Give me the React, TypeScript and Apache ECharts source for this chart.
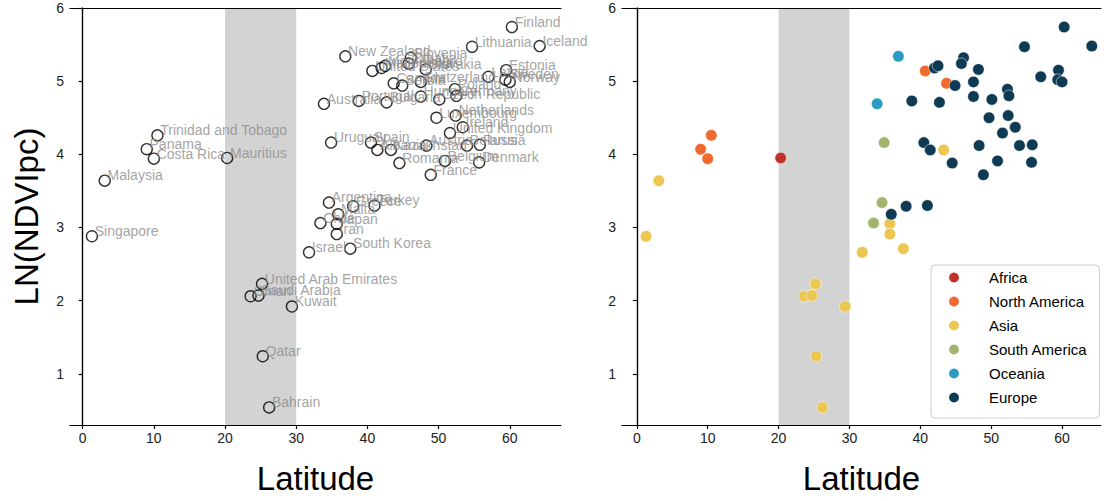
import React, { useEffect, useRef } from "react";
import * as echarts from "echarts";

// ---------- data ----------
const countries = [
  "Mauritius",
  "Trinidad and Tobago", "Panama", "Costa Rica", "United States", "Canada",
  "Singapore", "Malaysia", "Oman", "Saudi Arabia", "United Arab Emirates", "Qatar", "Bahrain", "Kuwait",
  "Israel", "Japan", "Iran", "South Korea", "Kazakhstan",
  "Uruguay", "Argentina", "Chile",
  "Australia", "New Zealand",
  "Finland", "Lithuania", "Iceland", "Macedonia", "Montenegro", "Slovenia", "Croatia", "Slovakia",
  "Serbia", "Switzerland", "Latvia", "Estonia", "Sweden", "Norway", "Poland", "Germany",
  "Portugal", "Bulgaria", "Hungary", "Czech Republic", "Luxembourg", "Netherlands", "Ireland",
  "United Kingdom", "Spain", "Albania", "Austria", "Belarus", "Russia", "Romania", "Belgium",
  "Denmark", "France", "Malta", "Greece", "Turkey",
];
const latitudes = [
  20.3,
  10.5, 9.0, 10.0, 40.7, 43.7,
  1.3, 3.1, 23.6, 24.7, 25.2, 25.3, 26.2, 29.4,
  31.8, 35.7, 35.7, 37.6, 43.3,
  34.9, 34.6, 33.4,
  33.9, 36.9,
  60.3, 54.7, 64.2, 42.0, 42.5, 46.1, 45.8, 48.2,
  44.9, 47.5, 57.0, 59.5, 59.4, 60.0, 52.3, 52.5,
  38.8, 42.7, 47.5, 50.1, 49.7, 52.4, 53.4,
  51.6, 40.5, 41.4, 48.3, 54.0, 55.8, 44.5, 50.9,
  55.7, 48.9, 35.9, 38.0, 41.0,
];
const lnNdvi = [
  3.95,
  4.26, 4.07, 3.94, 5.14, 4.97,
  2.88, 3.64, 2.06, 2.07, 2.23, 1.24, 0.54, 1.92,
  2.66, 3.05, 2.91, 2.71, 4.06,
  4.16, 3.34, 3.06,
  4.69, 5.34,
  5.74, 5.47, 5.48, 5.18, 5.21, 5.32, 5.24, 5.16,
  4.94, 4.99, 5.06, 5.15, 5.02, 4.99, 4.89, 4.80,
  4.73, 4.71, 4.79, 4.75, 4.50, 4.53, 4.37,
  4.29, 4.16, 4.06, 4.12, 4.12, 4.13, 3.88, 3.91,
  3.89, 3.72, 3.18, 3.29, 3.30,
];
const regions = [
  "Africa",
  "North America", "North America", "North America", "North America", "North America",
  "Asia", "Asia", "Asia", "Asia", "Asia", "Asia", "Asia", "Asia",
  "Asia", "Asia", "Asia", "Asia", "Asia",
  "South America", "South America", "South America",
  "Oceania", "Oceania",
  ...Array(36).fill("Europe"),
];
const continentNames = ["Africa", "North America", "Asia", "South America", "Oceania", "Europe"];
const continentColors = ["#c0332b", "#ee6a2f", "#ebc650", "#a2b56d", "#2a9cc1", "#0f3a54"];
const xTicks = [0, 10, 20, 30, 40, 50, 60];
const yTicks = [1, 2, 3, 4, 5, 6];
const band = [20, 30];

const FONT = "'Liberation Sans', Arial, sans-serif";

export default function App() {
  const ref = useRef<HTMLDivElement>(null);
  useEffect(() => {
    document.body.style.margin = "0";
    const chart = echarts.init(ref.current!, null, { renderer: "svg" });

    const lineStyle = { color: "#000", width: 1.2 };
    const mkX = (grid: number, min: number, max: number, withName: boolean) => [
      {
        type: "value", gridIndex: grid, position: "bottom", min, max, z: 10,
        axisLine: { show: true, lineStyle },
        axisTick: { show: true, customValues: xTicks, length: 4, lineStyle },
        axisLabel: { customValues: xTicks, fontSize: 14, color: "#222", margin: 6, fontFamily: FONT },
        splitLine: { show: false },
        name: withName ? "Latitude" : "",
        nameLocation: "middle", nameGap: 37,
        nameTextStyle: { fontSize: 33, color: "#000", fontFamily: FONT },
      },
      {
        type: "value", gridIndex: grid, position: "top", min, max, z: 10,
        axisLine: { show: true, lineStyle }, axisTick: { show: false },
        axisLabel: { show: false }, splitLine: { show: false },
      },
    ];
    const mkY = (grid: number, withName: boolean) => [
      {
        type: "value", gridIndex: grid, position: "left", min: 0.3, max: 6, z: 10,
        axisLine: { show: true, lineStyle },
        axisTick: { show: true, customValues: yTicks, length: 4, lineStyle },
        axisLabel: { customValues: yTicks, fontSize: 14, color: "#222", margin: 6, fontFamily: FONT },
        splitLine: { show: false },
        name: withName ? "LN(NDVIpc)" : "",
        nameLocation: "middle", nameGap: 27, nameRotate: 90,
        nameTextStyle: { fontSize: 33, color: "#000", fontFamily: FONT },
      },
      {
        type: "value", gridIndex: grid, position: "right", min: 0.3, max: 6, z: 10,
        axisLine: { show: true, lineStyle }, axisTick: { show: false },
        axisLabel: { show: false }, splitLine: { show: false },
      },
    ];

    const bandSeries = (xi: number, yi: number) => ({
      type: "scatter", xAxisIndex: xi, yAxisIndex: yi, data: [], z: 1, silent: true,
      markArea: {
        silent: true,
        itemStyle: { color: "#d3d3d3" },
        data: [[{ xAxis: band[0] }, { xAxis: band[1] }]],
      },
    });

    const allPoints = countries.map((c, i) => ({ name: c, value: [latitudes[i], lnNdvi[i]] }));

    const continentSeries = continentNames.map((cn, k) => ({
      type: "scatter", name: cn, xAxisIndex: 2, yAxisIndex: 2, z: 3,
      symbol: "circle", symbolSize: 11.5,
      itemStyle: { color: continentColors[k], borderColor: "#fff", borderWidth: 0.5, opacity: 1 },
      data: allPoints.filter((_, i) => regions[i] === cn),
    }));

    const option: any = {
      animation: false,
      textStyle: { fontFamily: FONT },
      grid: [
        { left: 70, top: 8, width: 491, height: 417 },
        { left: 622, top: 8, width: 479, height: 417 },
      ],
      xAxis: [...mkX(0, -1.78, 67.2, true), ...mkX(1, -2.1, 65.5, true)],
      yAxis: [...mkY(0, true), ...mkY(1, false)],
      legend: {
        data: continentNames,
        orient: "vertical",
        left: 931, top: 265,
        icon: "circle",
        itemWidth: 12, itemHeight: 12, itemGap: 9.0,
        padding: [5, 12, 13, 16],
        backgroundColor: "#fff",
        borderColor: "#cccccc", borderWidth: 1, borderRadius: 4,
        textStyle: { fontSize: 15, color: "#000", fontFamily: FONT, padding: [0, 0, 0, 24] },
      },
      series: [
        bandSeries(0, 0),
        {
          type: "scatter", xAxisIndex: 0, yAxisIndex: 0, z: 3,
          symbol: "circle", symbolSize: 11,
          itemStyle: { color: "rgba(0,0,0,0)", borderColor: "#000", borderWidth: 1.4 },
          label: {
            show: true, formatter: "{b}", position: [9, 1], align: "left", verticalAlign: "middle",
            color: "#8c8c8c", fontSize: 14, fontFamily: FONT,
          },
          data: allPoints,
        },
        bandSeries(2, 2),
        ...continentSeries,
      ],
    };
    chart.setOption(option);
    return () => chart.dispose();
  }, []);
  return <div ref={ref} style={{ width: 1107, height: 501 }} />;
}
